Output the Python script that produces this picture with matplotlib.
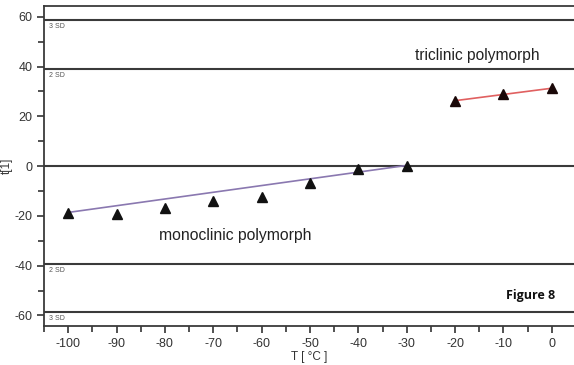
import numpy as np
import matplotlib.pyplot as plt
from matplotlib.ticker import MultipleLocator

plt.rcParams['font.family'] = ['Liberation Sans', 'DejaVu Sans']
plt.rcParams['axes.unicode_minus'] = False

# measured points
mono_T = [-100, -90, -80, -70, -60, -50, -40, -30]
mono_t = [-19.0, -19.3, -17.0, -14.2, -12.4, -6.8, -1.2, 0.2]
tri_T = [-20, -10, 0]
tri_t = [26.0, 28.8, 31.2]

# drawn fit lines (end points)
mono_fit_T = [-100, -30]
mono_fit_t = [-18.6, 0.3]
tri_fit_T = [-20, 0]
tri_fit_t = [26.3, 31.3]

sd_levels = [58.7, 39.2, -39.2, -58.7]
sd_labels = ['3 SD', '2 SD', '2 SD', '3 SD']

fig = plt.figure(figsize=(5.74, 3.65), dpi=100)
ax = fig.add_axes([0.0767, 0.107, 0.9233, 0.877])

for lev, lab in zip(sd_levels, sd_labels):
    ax.axhline(lev, color='#3a3a3a', lw=1.5, zorder=1)
    ax.text(-104, lev - 1.2, lab, fontsize=5, color='#555555', va='top', ha='left')
ax.axhline(0, color='#3a3a3a', lw=1.5, zorder=1)

ax.plot(mono_fit_T, mono_fit_t, color='#8a78b0', lw=1.2, zorder=2)
ax.plot(tri_fit_T, tri_fit_t, color='#e06060', lw=1.2, zorder=2)
ax.plot(mono_T, mono_t, '^', color='#111111', ms=7.5, zorder=3)
ax.plot(tri_T, tri_t, '^', color='#1a0808', ms=7.5, zorder=3)

ax.text(-65.5, -27.7, 'monoclinic polymorph', fontsize=11.3, color='#222222',
        ha='center', va='center')
ax.text(-15.3, 44.6, 'triclinic polymorph', fontsize=11.2, color='#222222',
        ha='center', va='center')
ax.text(0.8, -52, 'Figure 8', fontsize=9, fontweight='bold', color='#111111',
        ha='right', va='center', family=['Open Sans', 'DejaVu Sans'])

ax.set_xlim(-105, 4.6)
ax.set_ylim(-64.2, 64.4)
ax.xaxis.set_major_locator(MultipleLocator(10))
ax.xaxis.set_minor_locator(MultipleLocator(5))
ax.yaxis.set_major_locator(MultipleLocator(20))
ax.yaxis.set_minor_locator(MultipleLocator(10))
ax.tick_params(which='both', direction='out', color='#333333', width=1.2,
               labelsize=9, labelcolor='#333333')
ax.tick_params(which='major', length=5)
ax.tick_params(which='minor', length=4)
ax.spines['right'].set_visible(False)
for s in ['left', 'bottom', 'top']:
    ax.spines[s].set_color('#3a3a3a')
    ax.spines[s].set_linewidth(1.3)

ax.set_xlabel('T [ °C ]', fontsize=8.5, color='#333333', labelpad=1)
ax.set_ylabel('t[1]', fontsize=8.5, color='#333333')
ax.yaxis.set_label_coords(-0.058, 0.5)

fig.savefig('out.png', dpi=100)
